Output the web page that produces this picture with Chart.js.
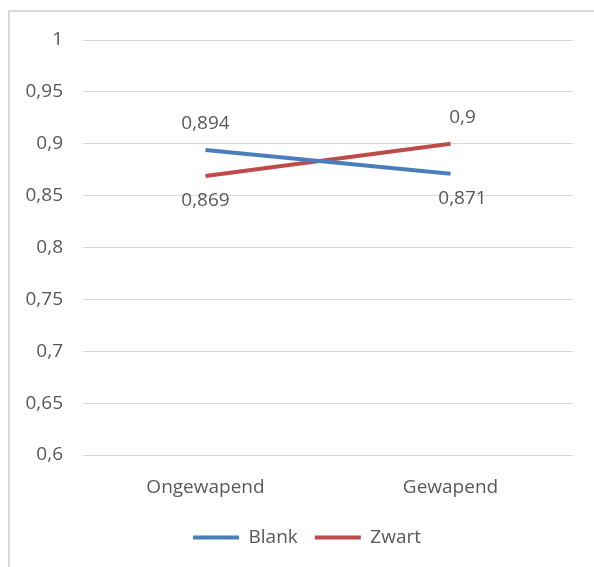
<!DOCTYPE html>
<html>
<head>
<meta charset="utf-8">
<script src="https://cdn.jsdelivr.net/npm/chart.js@4/dist/chart.umd.min.js"></script>
<style>
  html, body { margin: 0; padding: 0; background: #fff; overflow: hidden; }
  #wrap { position: relative; width: 594px; height: 567px; }
  #frame { position: absolute; left: 8px; top: 10px; width: 700px; height: 700px; border: 2px solid #d9d9d9; box-sizing: border-box; }
  #chart { position: absolute; left: 0; top: 0; }
</style>
</head>
<body>
<div id="wrap">
  <div id="frame"></div>
  <canvas id="chart" width="594" height="567"></canvas>
</div>
<script>
// data
const categories = ['Ongewapend', 'Gewapend'];
const blankValues = [0.894, 0.871];
const zwartValues = [0.869, 0.9];
const yMin = 0.6;
const yMax = 1;
const yStep = 0.05;

const FONT = "'Open Sans', 'Noto Sans', sans-serif";
const TEXT = '#595959';

function nl(v) {
  return String(Number(v.toFixed(3))).replace('.', ',');
}

// simple data label plugin (Excel style: above / below the point)
const pointLabels = {
  id: 'pointLabels',
  afterLayout(chart, args, opts) {
    // legend in the reference sits a bit right of the canvas centre
    if (chart.legend) {
      chart.legend.left += opts.legendShift;
      chart.legend.right += opts.legendShift;
    }
  },
  afterDatasetsDraw(chart, args, opts) {
    const ctx = chart.ctx;
    ctx.save();
    ctx.font = `19px ${FONT}`;
    ctx.fillStyle = TEXT;
    ctx.textAlign = 'center';
    ctx.textBaseline = 'middle';
    chart.data.datasets.forEach((ds, di) => {
      const meta = chart.getDatasetMeta(di);
      const place = opts.place[di];
      meta.data.forEach((pt, i) => {
        const dy = place[i] === 'above' ? -26 : 25;
        ctx.fillText(nl(ds.data[i]), pt.x + opts.dx[i], pt.y + dy);
      });
    });
    ctx.restore();
  },
};

new Chart(document.getElementById('chart'), {
  type: 'line',
  data: {
    labels: categories,
    datasets: [
      {
        label: 'Blank',
        data: blankValues,
        borderColor: '#4A7EBB',
        backgroundColor: '#4A7EBB',
        borderWidth: 4,
        pointRadius: 0,
        tension: 0,
      },
      {
        label: 'Zwart',
        data: zwartValues,
        borderColor: '#BE4B48',
        backgroundColor: '#BE4B48',
        borderWidth: 4,
        pointRadius: 0,
        tension: 0,
      },
    ],
  },
  options: {
    responsive: false,
    animation: false,
    layout: { padding: { top: 40, right: 21, bottom: 10, left: 21 } },
    plugins: {
      tooltip: { enabled: false },
      pointLabels: {
        place: [['above', 'below'], ['below', 'above']],
        dx: [0, 12],
        legendShift: 10,
      },
      legend: {
        position: 'bottom',
        labels: {
          font: { family: FONT, size: 19 },
          color: TEXT,
          boxWidth: 46,
          boxHeight: 4,
          padding: 17,
          generateLabels(chart) {
            return chart.data.datasets.map((ds, i) => ({
              text: ds.label,
              fillStyle: ds.borderColor,
              strokeStyle: ds.borderColor,
              lineWidth: 0,
              fontColor: TEXT,
              datasetIndex: i,
            }));
          },
        },
      },
    },
    scales: {
      x: {
        offset: true,
        grid: { display: false },
        border: { display: false },
        ticks: { font: { family: FONT, size: 19 }, color: TEXT, padding: 13 },
        afterFit(scale) { scale.height = 56; },
      },
      y: {
        min: yMin,
        max: yMax,
        grid: { color: '#d9d9d9', lineWidth: 1, drawTicks: false },
        border: { display: false },
        ticks: {
          stepSize: yStep,
          font: { family: FONT, size: 19 },
          color: TEXT,
          padding: 20,
          callback: (v) => nl(v),
        },
        afterFit(scale) { scale.width = 62; },
      },
    },
  },
  plugins: [pointLabels],
});
</script>
</body>
</html>
